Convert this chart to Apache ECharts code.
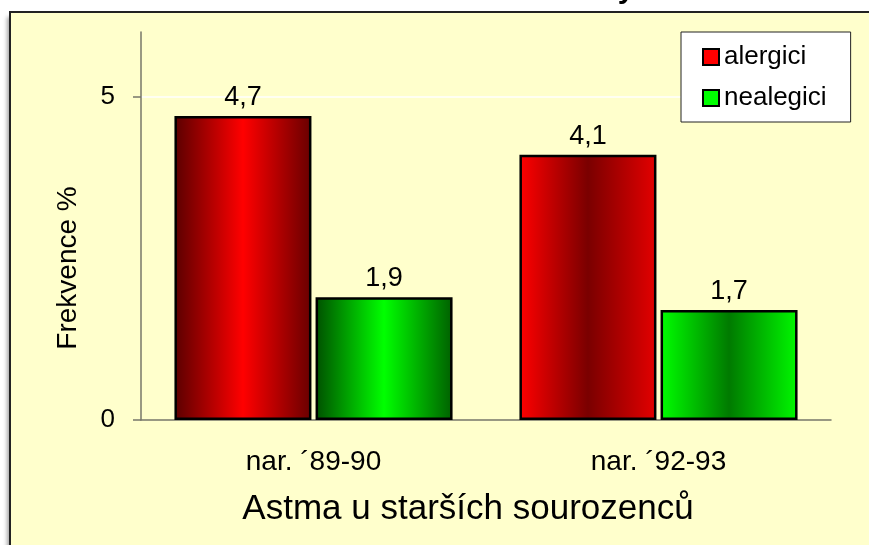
<!DOCTYPE html>
<html>
<head>
<meta charset="utf-8">
<script src="https://cdn.jsdelivr.net/npm/echarts@6/dist/echarts.min.js"></script>
<style>
  html, body { margin: 0; padding: 0; background: #fff; }
  #chart { width: 869px; height: 545px; }
</style>
</head>
<body>
<div id="chart"></div>
<script>
// data
const categories = ['nar. ´89-90', 'nar. ´92-93'];
const alergici = [4.7, 4.1];
const nealegici = [1.9, 1.7];
const yTicks = [0, 5];

const FONT = "Arial, 'Liberation Sans', sans-serif";

// horizontal gradients per bar (left, middle, right)
function grad(c0, c1, c2) {
  return new echarts.graphic.LinearGradient(0, 0, 1, 0, [
    { offset: 0, color: c0 },
    { offset: 0.5, color: c1 },
    { offset: 1, color: c2 }
  ]);
}
const redFills = [grad('#5a0000', '#ff0000', '#680000'), grad('#ff0000', '#7a0000', '#e40000')];
const greenFills = [grad('#005000', '#00ff00', '#006000'), grad('#00ff00', '#007a00', '#00f800')];

const comma = p => String(p.value).replace('.', ',');

const chart = echarts.init(document.getElementById('chart'));
chart.setOption({
  backgroundColor: '#fff',
  animation: false,
  textStyle: { fontFamily: FONT },
  graphic: [
    // yellow panel, only top and left edges are visible in the picture
    {
      type: 'rect', z: -10,
      shape: { x: 10, y: 12, width: 870, height: 540 },
      style: { fill: '#ffffcc', shadowColor: 'rgba(0,0,0,0.35)', shadowBlur: 4, shadowOffsetX: -3, shadowOffsetY: 5 }
    },
    {
      type: 'polyline', z: -9,
      shape: { points: [[10, 560], [10, 12], [880, 12]] },
      style: { stroke: '#222', lineWidth: 2, fill: null }
    },
    {
      type: 'text', z: 10, x: 626, y: 5,
      style: { text: 'y', font: 'bold 30px ' + FONT, fill: '#000', align: 'center', verticalAlign: 'bottom' }
    }
  ],
  grid: { left: 141, right: 38, top: 32, bottom: 125 },
  legend: {
    orient: 'vertical',
    left: 681, top: 32,
    padding: [12, 24, 11, 21],
    itemGap: 15,
    itemWidth: 16, itemHeight: 16,
    icon: 'rect',
    backgroundColor: '#fff',
    borderColor: '#222', borderWidth: 1,
    textStyle: { fontSize: 26, color: '#000', fontFamily: FONT },
    data: [
      { name: 'alergici', itemStyle: { color: '#ff0000', borderColor: '#000', borderWidth: 2 } },
      { name: 'nealegici', itemStyle: { color: '#00ff00', borderColor: '#000', borderWidth: 2 } }
    ]
  },
  xAxis: {
    type: 'category',
    data: categories,
    name: 'Astma u starších sourozenců',
    nameLocation: 'middle',
    nameGap: 72,
    nameTextStyle: { fontSize: 35, color: '#000', fontFamily: FONT, padding: [0, 36, 0, 0] },
    axisLine: { lineStyle: { color: '#77776a', width: 1.5 } },
    axisTick: { length: 8, interval: 0, lineStyle: { color: '#444', width: 1.5 } },
    axisLabel: { fontSize: 28, color: '#000', margin: 28, fontFamily: FONT }
  },
  yAxis: {
    type: 'value',
    min: 0, max: 6, interval: 5,
    name: 'Frekvence %',
    nameLocation: 'middle',
    nameGap: 59,
    nameTextStyle: { fontSize: 28, color: '#000', fontFamily: FONT, padding: [0, 84, 0, 0] },
    axisLine: { show: true, lineStyle: { color: '#77776a', width: 1.5 } },
    axisTick: { show: true, length: 8, customValues: yTicks, lineStyle: { color: '#77776a', width: 1.5 } },
    axisLabel: { fontSize: 26, color: '#000', margin: 26, customValues: yTicks, fontFamily: FONT },
    splitLine: { show: true, lineStyle: { color: ['rgba(0,0,0,0)', '#ffffff', 'rgba(0,0,0,0)'], width: 1.5 } }
  },
  series: [
    {
      name: 'alergici', type: 'bar',
      barWidth: 137, barGap: '3%',
      itemStyle: { color: '#ff0000', borderColor: '#000', borderWidth: 2.5 },
      data: alergici.map((v, i) => ({ value: v, itemStyle: { color: redFills[i] } })),
      label: { show: true, position: 'top', distance: 5, fontSize: 27, color: '#000', fontFamily: FONT, formatter: comma }
    },
    {
      name: 'nealegici', type: 'bar',
      barWidth: 137, barGap: '3%',
      itemStyle: { color: '#00ff00', borderColor: '#000', borderWidth: 2.5 },
      data: nealegici.map((v, i) => ({ value: v, itemStyle: { color: greenFills[i] } })),
      label: { show: true, position: 'top', distance: 5, fontSize: 27, color: '#000', fontFamily: FONT, formatter: comma }
    }
  ]
});
</script>
</body>
</html>
